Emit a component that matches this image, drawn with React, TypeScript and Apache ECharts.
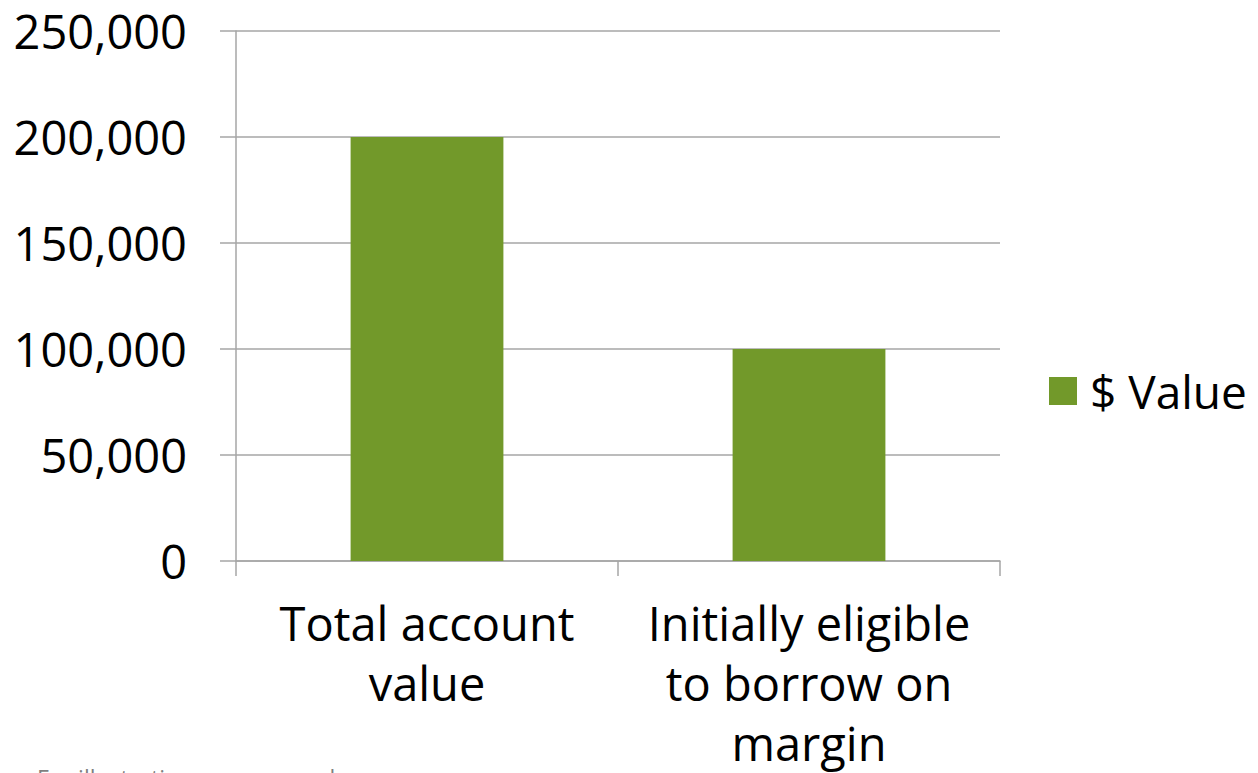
import React, { useEffect, useRef } from "react";
import * as echarts from "echarts";

const categories = ["Total account\nvalue", "Initially eligible\nto borrow on\nmargin"];
const seriesName = "$ Value";
const values = [200000, 100000];
const yMin = 0;
const yMax = 250000;
const yInterval = 50000;
const footnote = "For illustrative purposes only";

const FONT = "'Open Sans', sans-serif";
const GRID_COLOR = "#a6a6a6";
const BAR_COLOR = "#72992a";

export default function App() {
  const ref = useRef<HTMLDivElement>(null);
  useEffect(() => {
    document.body.style.margin = "0";
    document.body.style.overflow = "hidden";
    const chart = echarts.init(ref.current!, null, { renderer: "svg" });
    chart.setOption({
      animation: false,
      backgroundColor: "#ffffff",
      textStyle: { fontFamily: FONT },
      grid: { left: 236, right: 258, top: 31, bottom: 212, outerBoundsMode: "none", containLabel: false },
      legend: {
        data: [seriesName],
        left: 1049,
        top: 366,
        padding: 0,
        icon: "rect",
        itemWidth: 28,
        itemHeight: 28,
        textStyle: {
          fontFamily: FONT,
          fontSize: 46,
          color: "#000",
          lineHeight: 50,
          padding: [0, 0, 0, 8],
        },
      },
      xAxis: {
        type: "category",
        data: categories,
        axisLine: { show: true, lineStyle: { color: GRID_COLOR, width: 1.5 } },
        axisTick: { show: true, length: 15, alignWithLabel: false, lineStyle: { color: GRID_COLOR, width: 1.5 } },
        axisLabel: {
          interval: 0,
          margin: 32,
          fontFamily: FONT,
          fontSize: 47,
          lineHeight: 60,
          color: "#000",
        },
      },
      yAxis: {
        type: "value",
        min: yMin,
        max: yMax,
        interval: yInterval,
        axisLine: { show: true, lineStyle: { color: GRID_COLOR, width: 1.5 } },
        axisTick: { show: true, length: 16, lineStyle: { color: GRID_COLOR, width: 1.5 } },
        splitLine: { show: true, lineStyle: { color: GRID_COLOR, width: 1.5 } },
        axisLabel: {
          margin: 49,
          fontFamily: FONT,
          fontSize: 47,
          color: "#000",
          formatter: (v: number) => v.toLocaleString("en-US"),
        },
      },
      series: [
        {
          name: seriesName,
          type: "bar",
          data: values,
          barWidth: "40%",
          itemStyle: { color: BAR_COLOR },
        },
      ],
      graphic: [
        {
          type: "text",
          left: 37,
          top: 766,
          style: { text: footnote, fontFamily: FONT, fontSize: 23, fill: "#7f7f7f" },
        },
      ],
    });
    return () => chart.dispose();
  }, []);
  return <div ref={ref} style={{ width: 1258, height: 773 }} />;
}
